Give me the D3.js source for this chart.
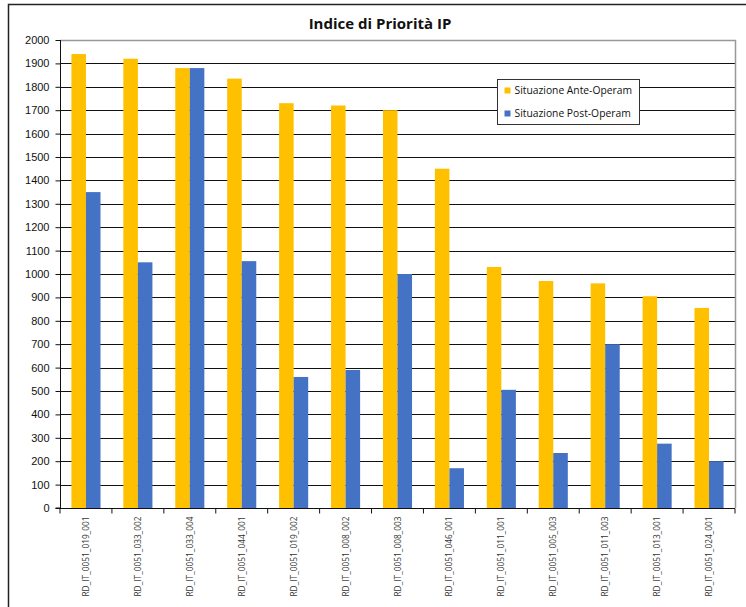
<!DOCTYPE html>
<html>
<head>
<meta charset="utf-8">
<script src="https://cdn.jsdelivr.net/npm/d3@7"></script>
<style>
  body { margin: 0; background: #fff; }
  svg { display: block; font-family: "Open Sans", "Liberation Sans", sans-serif; }
</style>
</head>
<body>
<svg id="chart" width="746" height="607"></svg>
<script>
const categories = [
  "RD_IT_0051_019_001", "RD_IT_0051_033_002", "RD_IT_0051_033_004", "RD_IT_0051_044_001",
  "RD_IT_0051_019_002", "RD_IT_0051_008_002", "RD_IT_0051_008_003", "RD_IT_0051_046_001",
  "RD_IT_0051_011_001", "RD_IT_0051_005_003", "RD_IT_0051_011_003", "RD_IT_0051_013_001",
  "RD_IT_0051_024_001"
];
const anteOperam = [1940, 1920, 1880, 1835, 1730, 1720, 1700, 1450, 1030, 970, 960, 905, 855];
const postOperam = [1350, 1050, 1880, 1055, 560, 590, 1000, 170, 505, 235, 700, 275, 200];
const seriesNames = ["Situazione Ante-Operam", "Situazione Post-Operam"];
const yTicks = d3.range(0, 2001, 100);

const colors = ["#FFC000", "#4472C4"];
const width = 746;
const height = 607;
const margin = {top: 40, right: 11, bottom: 99, left: 60};

const svg = d3.select("#chart");

// frame of the chart object
svg.append("path")
  .attr("d", `M8.5,${height} V4.5 H${width}`)
  .attr("fill", "none")
  .attr("stroke", "#222")
  .attr("stroke-width", 1.5);

svg.append("text")
  .attr("x", 380)
  .attr("y", 29)
  .attr("text-anchor", "middle")
  .attr("font-size", 15)
  .attr("font-weight", "bold")
  .attr("fill", "#111")
  .text("Indice di Priorità IP");

const x0 = d3.scaleBand()
  .domain(categories)
  .range([margin.left, width - margin.right])
  .paddingInner(0.44)
  .paddingOuter(0.22);

const x1 = d3.scaleBand()
  .domain([0, 1])
  .range([0, x0.bandwidth()]);

const y = d3.scaleLinear()
  .domain([0, 2000])
  .range([height - margin.bottom, margin.top]);

// gridlines
svg.append("g")
  .selectAll("line")
  .data(yTicks.filter(d => d > 0 && d < 2000))
  .join("line")
  .attr("x1", margin.left)
  .attr("x2", width - margin.right)
  .attr("y1", d => Math.round(y(d)) + 0.5)
  .attr("y2", d => Math.round(y(d)) + 0.5)
  .attr("stroke", "#111")
  .attr("stroke-width", 1);

// plot area border (top / right)
svg.append("path")
  .attr("d", `M${margin.left},${margin.top + 0.5} H${width - margin.right + 0.5} V${height - margin.bottom}`)
  .attr("fill", "none")
  .attr("stroke", "#999")
  .attr("stroke-width", 1.5);

const rows = categories.map((c, i) => ({cat: c, values: [anteOperam[i], postOperam[i]]}));

svg.append("g")
  .selectAll("g")
  .data(rows)
  .join("g")
  .attr("transform", d => `translate(${x0(d.cat)},0)`)
  .selectAll("rect")
  .data(d => d.values.map((v, k) => ({k, v})))
  .join("rect")
  .attr("x", d => x1(d.k))
  .attr("width", x1.bandwidth())
  .attr("y", d => y(d.v))
  .attr("height", d => y(0) - y(d.v))
  .attr("fill", d => colors[d.k]);

// y axis
const yAxis = svg.append("g")
  .attr("transform", `translate(${margin.left + 0.5},0)`)
  .call(d3.axisLeft(y).tickValues(yTicks).tickSize(5).tickPadding(6).tickFormat(d3.format("d")));
yAxis.select(".domain").attr("stroke", "#111").attr("d", `M-5,${y(0)}H0V${margin.top}`);
yAxis.selectAll(".tick line").attr("stroke", "#111");
yAxis.selectAll(".tick text").attr("font-size", 11).attr("fill", "#111");

// x axis
const xAxisG = svg.append("g")
  .attr("transform", `translate(0,${Math.round(y(0)) + 0.5})`);
xAxisG.append("line")
  .attr("x1", margin.left)
  .attr("x2", width - margin.right)
  .attr("stroke", "#111");
const boundaries = d3.range(categories.length + 1).map(i => margin.left + i * (width - margin.right - margin.left) / categories.length);
xAxisG.selectAll(".xtick")
  .data(boundaries)
  .join("line")
  .attr("class", "xtick")
  .attr("x1", d => d).attr("x2", d => d)
  .attr("y1", 0).attr("y2", 5)
  .attr("stroke", "#111");
xAxisG.selectAll(".xlabel")
  .data(categories)
  .join("text")
  .attr("class", "xlabel")
  .attr("transform", d => `translate(${x0(d) + x0.bandwidth() / 2 + 3},8) rotate(-90)`)
  .attr("text-anchor", "end")
  .attr("font-size", 8.3)
  .attr("fill", "#333")
  .text(d => d);

// legend
const legend = svg.append("g").attr("transform", "translate(497.5,79.5)");
legend.append("rect")
  .attr("width", 142)
  .attr("height", 45)
  .attr("fill", "#fff")
  .attr("stroke", "#333");
seriesNames.forEach((name, i) => {
  const g = legend.append("g").attr("transform", `translate(7,${11 + i * 23})`);
  g.append("rect").attr("x", 0).attr("y", -3).attr("width", 6).attr("height", 6).attr("fill", colors[i]);
  g.append("text")
    .attr("x", 10)
    .attr("y", 3.5)
    .attr("font-size", 10.3)
    .attr("fill", "#111")
    .text(name);
});
</script>
</body>
</html>
